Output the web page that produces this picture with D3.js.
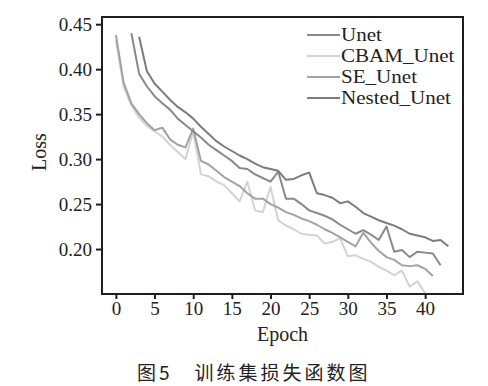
<!DOCTYPE html>
<html>
<head>
<meta charset="utf-8">
<script src="https://cdn.jsdelivr.net/npm/d3@7"></script>
<style>
  body { margin: 0; background: #fff; }
  text { font-family: "Liberation Serif", "Times New Roman", serif; fill: #222; }
</style>
</head>
<body>
<script>
// loss values, one point per epoch
var unetStart = 2;
var unetLoss = [0.440,0.395,0.381,0.370,0.362,0.355,0.345,0.338,0.331,0.324,
  0.316,0.310,0.304,0.298,0.290,0.289,0.283,0.279,0.275,0.286,
  0.256,0.256,0.250,0.243,0.240,0.237,0.233,0.227,0.222,0.217,
  0.221,0.216,0.210,0.225,0.197,0.199,0.191,0.197,0.196,0.195,0.182];

var cbamStart = 0;
var cbamLoss = [0.432,0.380,0.360,0.346,0.337,0.331,0.325,0.316,0.308,0.300,
  0.331,0.283,0.281,0.275,0.271,0.262,0.253,0.275,0.243,0.241,
  0.269,0.232,0.226,0.222,0.217,0.216,0.215,0.206,0.208,0.212,
  0.192,0.193,0.189,0.186,0.180,0.176,0.171,0.176,0.158,0.164,0.151];

var seStart = 0;
var seLoss = [0.438,0.385,0.362,0.350,0.340,0.332,0.335,0.322,0.316,0.313,
  0.334,0.298,0.294,0.287,0.280,0.275,0.270,0.262,0.256,0.256,
  0.250,0.246,0.241,0.238,0.234,0.231,0.227,0.222,0.218,0.213,
  0.208,0.203,0.218,0.207,0.198,0.191,0.188,0.182,0.181,0.182,0.178,0.170];

var nestedStart = 3;
var nestedLoss = [0.436,0.398,0.384,0.375,0.366,0.358,0.352,0.345,0.336,0.328,
  0.320,0.314,0.309,0.304,0.300,0.295,0.291,0.289,0.287,0.277,
  0.278,0.282,0.285,0.262,0.260,0.257,0.251,0.253,0.247,0.240,
  0.236,0.232,0.229,0.226,0.222,0.217,0.215,0.213,0.209,0.210,0.203];

var seriesNames = ["Unet", "CBAM_Unet", "SE_Unet", "Nested_Unet"];
var seriesColors = ["#898989", "#d3d3d3", "#a2a2a2", "#7c7c7c"];

var xTicks = [0, 5, 10, 15, 20, 25, 30, 35, 40];
var yTicks = [0.20, 0.25, 0.30, 0.35, 0.40, 0.45];

var caption = "图5　训练集损失函数图";

let svg = d3.select("body")
            .append("svg")
            .attr("width", 488)
            .attr("height", 386);

// plot box
let boxL = 102, boxR = 463, boxT = 17, boxB = 294;

let x = d3.scaleLinear().domain([-1.8, 44.9]).range([boxL, boxR]);
let y = d3.scaleLinear().domain([0.15, 0.458]).range([boxB, boxT]);

let toPoints = (start, vals) => vals.map((v, i) => [start + i, v]);
let series = [
  toPoints(unetStart, unetLoss),
  toPoints(cbamStart, cbamLoss),
  toPoints(seStart, seLoss),
  toPoints(nestedStart, nestedLoss)
];

let line = d3.line()
            .x(d => x(d[0]))
            .y(d => y(d[1]));

// draw light one first so the darker ones sit on top
[1, 2, 0, 3].forEach(i => {
  svg.append("path")
     .datum(series[i])
     .attr("d", line)
     .attr("fill", "none")
     .attr("stroke", seriesColors[i])
     .attr("stroke-width", 2)
     .attr("stroke-linejoin", "round");
});

// frame
svg.append("rect")
   .attr("x", boxL)
   .attr("y", boxT)
   .attr("width", boxR - boxL)
   .attr("height", boxB - boxT)
   .attr("fill", "none")
   .attr("stroke", "#1e1e1e")
   .attr("stroke-width", 2);

let xAxis = svg.append("g")
   .attr("transform", "translate(0," + boxB + ")")
   .call(d3.axisBottom(x).tickValues(xTicks).tickSize(5).tickPadding(3).tickFormat(d3.format("d")));

let yAxis = svg.append("g")
   .attr("transform", "translate(" + boxL + ",0)")
   .call(d3.axisLeft(y).tickValues(yTicks).tickSize(6).tickPadding(4).tickFormat(d3.format(".2f")));

[xAxis, yAxis].forEach(a => {
  a.select(".domain").remove();
  a.selectAll(".tick line").attr("stroke", "#1e1e1e").attr("stroke-width", 2);
  a.selectAll(".tick text")
   .style("font-family", '"Liberation Serif", serif')
   .style("font-size", "19px")
   .attr("fill", "#222");
});

svg.append("text")
   .attr("x", (boxL + boxR) / 2)
   .attr("y", 341)
   .attr("text-anchor", "middle")
   .style("font-size", "20px")
   .text("Epoch");

svg.append("text")
   .attr("transform", "translate(46,152) rotate(-90)")
   .attr("text-anchor", "middle")
   .style("font-size", "20px")
   .text("Loss");

// legend - the scan is a bit stretched sideways, so widen the text
let legend = svg.append("g");
seriesNames.forEach((name, i) => {
  let ly = 35 + i * 21;
  legend.append("line")
        .attr("x1", 307).attr("x2", 340)
        .attr("y1", ly).attr("y2", ly)
        .attr("stroke", seriesColors[i])
        .attr("stroke-width", 2);
  legend.append("text")
        .attr("transform", "translate(341," + (ly + 6) + ") scale(1.17,1)")
        .style("font-size", "18px")
        .text(name);
});

svg.append("text")
   .attr("x", 137)
   .attr("y", 380)
   .style("font-family", '"Noto Sans CJK SC", sans-serif')
   .style("font-size", "19px")
   .style("letter-spacing", "3px")
   .attr("fill", "#2a2a2a")
   .text(caption);
</script>
</body>
</html>
